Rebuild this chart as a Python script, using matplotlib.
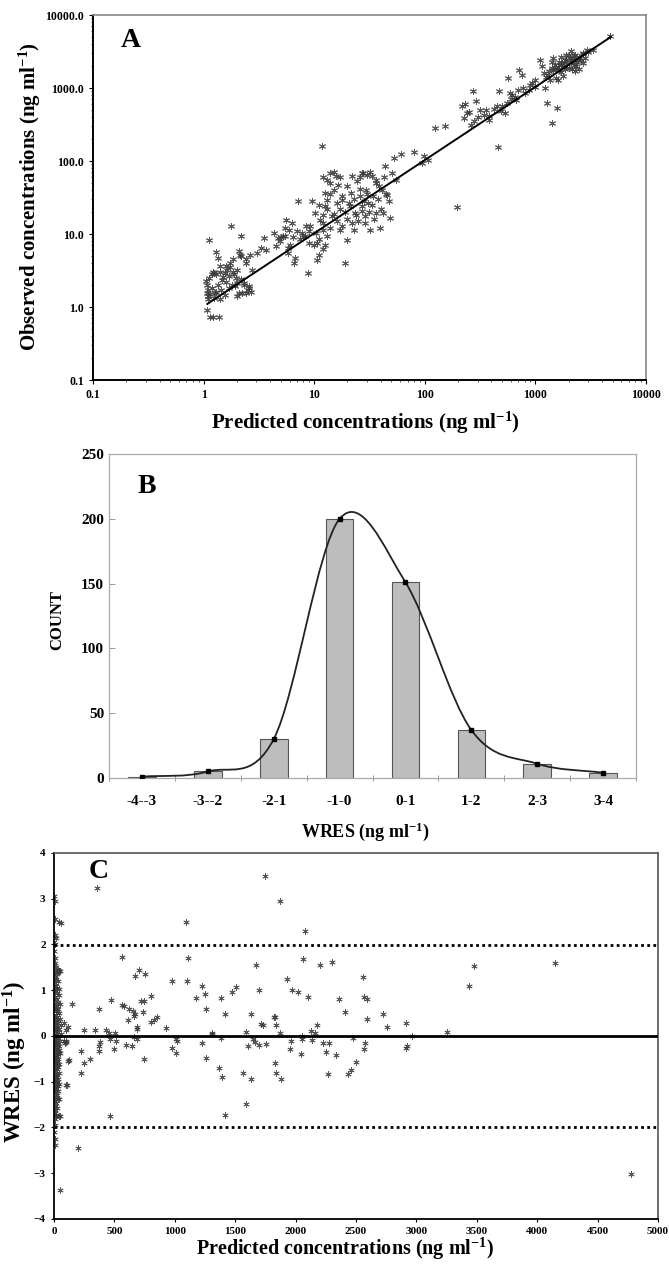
import matplotlib
matplotlib.use("Agg")
import matplotlib.pyplot as plt
import numpy as np
from matplotlib.path import Path
from matplotlib.patches import PathPatch
from matplotlib.ticker import NullFormatter, LogLocator

plt.rcParams['font.family'] = ['Liberation Serif', 'DejaVu Serif']
plt.rcParams['font.weight'] = 'bold'
plt.rcParams['mathtext.fontset'] = 'custom'
plt.rcParams['mathtext.rm'] = 'Liberation Serif:bold'
plt.rcParams['mathtext.bf'] = 'Liberation Serif:bold'
plt.rcParams['mathtext.it'] = 'Liberation Serif:bold'

# ---- panel A : observed vs predicted (log-log)
pred_a = [1.07, 1.13, 1.15, 1.21, 1.38, 1.05, 1.07, 1.09, 1.24, 1.30, 1.35, 1.27, 1.42, 1.48, 1.55,
          1.62, 1.69, 1.77, 1.85, 1.94, 2.02, 2.12, 2.17, 2.08, 2.21, 2.31, 2.42, 2.53, 2.60, 2.72,
          2.62, 3.03, 3.31, 3.55, 3.68, 4.32, 4.52, 4.73, 4.94, 5.17, 5.40, 5.55, 5.75, 5.96, 6.29,
          6.63, 6.75, 7.12, 7.72, 8.22, 8.75, 9.23, 9.65, 10.1, 10.4, 10.7, 11.3, 11.7, 12.1, 12.4,
          12.6, 13.1, 13.8, 14.4, 15.1, 15.8, 16.5, 17.1, 17.7, 18.8, 19.7, 20.6, 21.5, 22.1, 22.7,
          23.6, 24.6, 25.7, 26.9, 27.7, 28.7, 29.4, 30.8, 32.2, 33.0, 34.3, 36.1, 38.5, 39.5, 41.0,
          42.1, 44.0, 46.0, 48.1, 50.3, 52.6, 55.0, 61.2, 80.7, 94.0, 98.2, 107, 123, 153, 197,
          219, 225, 240, 262, 274, 292, 313, 358, 381, 448, 460, 469, 490, 526, 560, 585, 612,
          669, 713, 752, 779, 874, 931, 1000, 1093, 1143, 1217, 1261, 1307, 1367, 1416, 1455,
          1535, 1563, 1634, 1709, 1787, 1867, 2005, 2134, 2232, 2334, 2441, 2669, 3334, 4764,
          1200, 1250, 1320, 1400, 1450, 1500, 1550, 1600, 1650, 1700, 1750, 1800, 1850, 1900,
          1950, 2000, 2050, 2100, 2150, 2200, 2250, 2300, 2400, 2500, 2600, 2700, 2800, 3000,
          2900, 2100, 1700, 1600, 2500, 2300, 2700, 1900, 1400, 1000, 900, 800, 700, 650, 600,
          550, 500, 420, 380, 340, 300, 280, 250, 230,
          8, 9, 10, 11, 11, 12, 12, 13, 13, 14, 14, 15, 16, 16, 17, 18, 18, 19, 20, 20, 21, 22,
          23, 24, 25, 26, 27, 28, 29, 30, 31, 33, 35, 36, 38, 40, 43, 45, 47, 9, 8.5, 7.5, 6.5,
          6, 5.8, 7, 5, 5.5, 12, 14, 15, 13, 17, 27, 32, 36, 30, 26, 11, 10.5, 12.5, 12,
          1.1, 1.15, 1.2, 1.25, 1.3, 1.35, 1.4, 1.45, 1.5, 1.55, 1.6, 1.7, 1.75, 1.8, 1.9, 2.0,
          2.1, 2.2, 2.3, 2.4, 2.6, 2.7, 1.12, 1.18, 1.22, 1.08, 1.1, 1.3, 1.4, 1.6, 1.75, 1.85,
          1.95, 2.2, 2.4, 2.0]
obs_a = [0.92, 8.2, 0.74, 0.74, 0.74, 2.25, 1.56, 1.40, 2.92, 5.67, 4.69, 1.56, 3.61, 2.37, 2.92,
         3.25, 2.63, 13.0, 4.54, 1.92, 1.40, 5.21, 9.29, 5.79, 1.56, 2.13, 4.01, 1.73, 1.92, 3.25,
         5.21, 5.49, 6.43, 8.81, 6.10, 10.3, 6.78, 8.81, 7.94, 9.29, 12.1, 15.7, 5.49, 11.5, 14.2,
         4.01, 4.69, 28.0, 10.3, 9.29, 2.92, 12.7, 28.0, 19.4, 10.3, 4.45, 15.7, 159, 11.5, 23.9,
         36.4, 29.5, 68.5, 17.5, 40.5, 61.6, 47.4, 11.5, 29.5, 4.01, 8.2, 26.6, 36.4, 63.0, 11.5,
         19.4, 52.6, 32.8, 23.9, 68.5, 17.5, 40.5, 26.6, 11.5, 61.6, 32.8, 19.4, 45.0, 12.1, 40.5,
         19.4, 84.5, 34.6, 16.6, 68.5, 110, 55.5, 126, 133, 93.9, 116, 104, 283, 305, 23.4,
         561, 388, 455, 315, 900, 656, 505, 505, 368, 573, 155, 900, 479, 455, 1370, 854, 811,
         692, 1783, 1523, 1000, 948, 1170, 1032, 2443, 1981, 1000, 623, 1523, 1300, 332, 2576,
         1370, 532, 1783, 2089, 1444, 2443, 2863, 2317, 2714, 1981, 2443, 3016, 3350, 5210,
         1600, 1400, 1700, 1900, 1750, 2100, 1800, 1950, 2300, 1650, 2200, 2000, 1850, 2400,
         2150, 1900, 2600, 2250, 1800, 2500, 2050, 2800, 2300, 2650, 2450, 2900, 2600, 3100,
         3300, 3200, 2700, 1300, 1800, 1700, 2200, 2800, 2300, 1300, 1100, 850, 950, 750, 700,
         620, 560, 520, 420, 430, 400, 350, 470, 600,
         9, 7.5, 7, 8.5, 25, 18, 14, 9.5, 22, 12, 35, 19, 15, 27, 22, 13, 33, 20, 16, 45, 24, 14,
         30, 18, 15, 42, 21, 28, 14, 35, 20, 25, 16, 50, 30, 22, 60, 35, 28, 11, 13, 8.5, 9,
         7, 6.5, 11, 9, 9.5, 60, 50, 70, 55, 60, 68, 70, 55, 65, 60, 5.2, 7.5, 7, 6.3,
         1.3, 1.5, 1.8, 1.35, 1.6, 2.0, 1.3, 1.7, 2.6, 1.45, 2.2, 1.8, 3.5, 2.0, 2.8, 2.1,
         1.55, 2.4, 2.0, 1.55, 1.8, 1.6, 2.5, 2.8, 3.0, 2.0, 1.7, 2.8, 3.0, 3.6, 4.0, 3.0,
         2.5, 5.0, 4.5, 3.2]
line_a_x = [1.08, 4800]
line_a_y = [1.10, 5000]

# ---- panel B : WRES histogram
wres_bins = ["-4--3", "-3--2", "-2-1", "-1-0", "0-1", "1-2", "2-3", "3-4"]
wres_count = [1, 5, 30, 200, 151, 37, 11, 4]

# ---- panel C : WRES vs predicted
pred_c = [355, 1748, 1872, 1096, 2081, 560, 1110, 4145, 3475, 1670, 2060, 2301, 2205, 706, 670,
          755, 2557, 1929, 979, 1103, 3436, 1223, 1503, 1471, 1698, 1972, 2021, 1248, 805, 1174,
          1383, 2103, 2567, 2592, 2362, 152, 617, 475, 376, 567, 582, 613, 652, 660, 667, 684,
          684, 723, 734, 745, 805, 826, 851, 929, 1418, 1631, 1716, 1727, 1819, 1830, 1837, 1872,
          1312, 1589, 2174, 2128, 2163, 2057, 2408, 2592, 2723, 2755, 2911, 2964, 3255, 1227,
          1014, 1021, 979, 1011, 1305, 1380, 1259, 1255, 1365, 1394, 1418, 1564, 1592, 1610,
          1631, 1649, 1660, 1698, 1759, 1833, 1840, 1883, 1950, 1961, 2043, 2057, 2138, 2230,
          2252, 2266, 2273, 2333, 2433, 2457, 2475, 2500, 2571, 2567, 2918, 2911, 372, 376, 383,
          340, 248, 223, 220, 252, 294, 195, 465, 465, 500, 514, 454, 433, 507, 596, 642, 663,
          745, 691, 117, 82, 121, 99, 4773,
          85, 92, 97, 100, 103, 118, 105,
          3, 5, 8, 12, 15, 6, 4, 10, 7, 20, 30, 45, 12, 25, 8, 18, 35, 5, 14, 28, 45, 9, 22, 40,
          6, 16, 32, 11, 48, 24, 4, 19, 38, 13, 27, 7, 50, 21, 10, 34, 60, 15, 26, 5, 42, 18, 9,
          30, 55, 14, 23, 6, 37, 12, 46, 20, 8, 29, 16, 40, 4, 25, 11, 33, 18, 52, 7, 22, 14, 36,
          10, 28, 5, 19, 44, 13, 31, 8, 24, 16, 39, 6, 21, 12, 34, 9, 27, 15, 42, 5, 20, 11, 30,
          7, 24, 14, 36, 9, 18, 5, 27, 12, 8, 20, 48, 15, 6, 10, 4, 8, 6, 46, 40, 55, 42, 50, 38,
          45, 17, 26, 3, 2, 35, 44, 33, 2, 3, 25, 18, 10, 31, 22, 13, 9, 16]
wres_c = [3.24, 3.50, 2.95, 2.49, 2.30, 1.72, 1.71, 1.60, 1.53, 1.56, 1.69, 1.61, 1.56, 1.45, 1.32,
          1.35, 1.28, 1.24, 1.21, 1.20, 1.10, 1.10, 1.06, 0.97, 1.00, 1.00, 0.97, 0.91, 0.88, 0.83,
          0.83, 0.86, 0.86, 0.80, 0.80, 0.70, 0.60, 0.78, 0.60, 0.68, 0.65, 0.35, 0.54, 0.44, 0.48,
          0.16, 0.20, 0.77, 0.52, 0.76, 0.30, 0.35, 0.41, 0.18, 0.49, 0.49, 0.26, 0.25, 0.42, 0.41,
          0.23, 0.07, 0.06, 0.08, 0.23, 0.10, 0.06, 0.01, 0.52, 0.37, 0.49, 0.20, 0.29, 0.0, 0.09,
          -0.16, -0.06, -0.12, -0.27, -0.38, 0.04, -0.04, -0.48, 0.60, -0.70, -0.89, -1.72, -0.81,
          -1.48, -0.23, -0.95, -0.07, -0.13, -0.19, -0.17, -0.58, -0.81, -0.95, -0.28, -0.10,
          -0.39, -0.07, -0.09, -0.16, -0.36, -0.84, -0.16, -0.41, -0.84, -0.74, -0.05, -0.57,
          -0.15, -0.28, -0.22, -0.27, -0.33, -0.21, -0.13, 0.14, 0.12, -0.33, -0.81, -0.59,
          -0.50, -2.44, -1.75, -0.07, -0.29, -0.11, 0.06, 0.12, 0.07, -0.20, -0.23, -0.03, -0.51,
          -0.07, 0.20, 0.29, -0.52, -1.07, -3.02,
          -0.12, -0.15, -0.13, -0.12, 0.12, -0.54, -1.08,
          3.05, 2.95, 2.55, 2.2, 2.15, 2.0, 1.85, 1.7, 1.6, 1.5, 1.45, 1.43, 1.4, 1.35, 1.3, 1.25,
          1.2, 1.15, 1.1, 1.05, 1.02, 1.0, 0.95, 0.9, 0.85, 0.8, 0.75, 0.7, 0.7, 0.65, 0.6, 0.55,
          0.5, 0.45, 0.42, 0.4, 0.38, 0.35, 0.3, 0.28, 0.25, 0.22, 0.2, 0.18, 0.15, 0.12, 0.1,
          0.08, 0.05, 0.03, 0.0, -0.03, -0.05, -0.08, -0.1, -0.12, -0.15, -0.18, -0.2, -0.22,
          -0.25, -0.28, -0.3, -0.33, -0.36, -0.38, -0.4, -0.43, -0.46, -0.5, -0.52, -0.55, -0.58,
          -0.6, -0.62, -0.65, -0.68, -0.7, -0.73, -0.76, -0.8, -0.83, -0.86, -0.9, -0.93, -0.96,
          -1.0, -1.03, -1.06, -1.1, -1.13, -1.17, -1.2, -1.25, -1.3, -1.35, -1.38, -1.42, -1.47,
          -1.52, -1.57, -1.62, -1.68, -1.72, -1.75, -1.75, -1.82, -1.95, -2.1, -2.25, -2.38,
          -3.36, 2.49, 2.48, 1.42, 1.43, -1.38, -1.75, 0.0, -0.6, -0.5, 0.3, 0.6, -0.3, -1.1,
          -1.0, 1.0, 0.5, -0.9, -0.7, -0.4, -0.2, 0.6, -1.2, -0.05]
limit_hi = 1.98
limit_lo = -1.98

ast = (6, 2, 0)
pt_col = '#3a3a3a'
unit = 'ng ml$^{-1}$'

fig = plt.figure(figsize=(6.69, 12.65), dpi=100)

# ================= A
axA = fig.add_axes([0.139, 0.6996, 0.8266, 0.2885])
axA.plot(pred_a, obs_a, ls='none', marker=ast, ms=5, mec=pt_col, mew=0.7, alpha=0.85)
axA.plot(line_a_x, line_a_y, color='black', lw=1.4)
axA.set_xscale('log')
axA.set_yscale('log')
axA.set_xlim(0.1, 10000)
axA.set_ylim(0.1, 10000)
dec = [0.1, 1, 10, 100, 1000, 10000]
axA.set_xticks(dec)
axA.set_xticklabels(['0.1', '1', '10', '100', '1000', '10000'])
axA.set_yticks(dec)
axA.set_yticklabels(['0.1', '1.0', '10.0', '100.0', '1000.0', '10000.0'])
axA.xaxis.set_minor_locator(LogLocator(base=10, subs=np.arange(2, 10)))
axA.yaxis.set_minor_locator(LogLocator(base=10, subs=np.arange(2, 10)))
axA.xaxis.set_minor_formatter(NullFormatter())
axA.yaxis.set_minor_formatter(NullFormatter())
axA.tick_params(which='major', length=3, width=0.8, labelsize=8.5, direction='out')
axA.tick_params(which='minor', length=1.5, width=0.5, direction='out')
for s in ['left', 'bottom']:
    axA.spines[s].set_linewidth(1.4)
for s in ['top', 'right']:
    axA.spines[s].set_color('#888888')
    axA.spines[s].set_linewidth(1.2)
axA.text(0.05, 0.93, 'A', transform=axA.transAxes, fontsize=20, fontweight='bold', va='center')
fig.text(365 / 669, 1 - 423 / 1265, 'Predicted concentrations (' + unit + ')',
         ha='center', va='center', fontsize=15, fontweight='bold')
fig.text(30 / 669, 1 - 197 / 1265, 'Observed concentrations (' + unit + ')',
         ha='center', va='center', rotation=90, fontsize=15, fontweight='bold')

# ================= B
axB = fig.add_axes([0.163, 0.385, 0.7877, 0.2561])
xb = np.arange(len(wres_bins))
axB.bar(xb, wres_count, width=0.42, color='#bdbdbd', edgecolor='#555555', linewidth=0.8, zorder=2)
# smooth line through the counts (cubic bezier, catmull-rom tangents)
yb = np.array(wres_count, dtype=float)
tang = np.gradient(yb)
verts = [(xb[0], yb[0])]
codes = [Path.MOVETO]
for i in range(len(xb) - 1):
    verts += [(xb[i] + 1 / 3, yb[i] + tang[i] / 3),
              (xb[i + 1] - 1 / 3, yb[i + 1] - tang[i + 1] / 3),
              (xb[i + 1], yb[i + 1])]
    codes += [Path.CURVE4] * 3
axB.add_patch(PathPatch(Path(verts, codes), facecolor='none', edgecolor='#222222', lw=1.3, zorder=3))
axB.plot(xb, wres_count, ls='none', marker='s', ms=3.5, color='black', zorder=4)
axB.set_xlim(-0.5, len(wres_bins) - 0.5)
axB.set_ylim(0, 250)
axB.set_yticks(range(0, 251, 50))
axB.set_xticks(xb)
axB.set_xticklabels(wres_bins)
axB.set_xticks(np.arange(-0.5, len(wres_bins)), minor=True)
axB.tick_params(axis='x', which='major', length=0, pad=12, labelsize=11)
axB.tick_params(axis='x', which='minor', length=5, width=0.6, color='#888888', direction='inout')
axB.tick_params(axis='y', length=4, width=0.6, color='#888888', labelsize=11, direction='in')
for s in axB.spines.values():
    s.set_color('#aaaaaa')
    s.set_linewidth(0.9)
axB.text(0.055, 0.90, 'B', transform=axB.transAxes, fontsize=20, fontweight='bold', va='center')
fig.text(365 / 669, 1 - 832 / 1265, 'WRES (' + unit + ')', ha='center', va='center',
         fontsize=13, fontweight='bold')
fig.text(57 / 669, 1 - 620 / 1265, 'COUNT', ha='center', va='center', rotation=90,
         fontsize=12, fontweight='bold')

# ================= C
axC = fig.add_axes([0.0807, 0.0364, 0.9029, 0.2893])
axC.plot(pred_c, wres_c, ls='none', marker=ast, ms=4.5, mec=pt_col, mew=0.6, alpha=0.85, zorder=2)
axC.axhline(0, color='black', lw=2, zorder=3)
axC.axhline(limit_hi, color='black', lw=2, ls=(0, (1, 1.2)), zorder=3)
axC.axhline(limit_lo, color='black', lw=2, ls=(0, (1, 1.2)), zorder=3)
axC.set_xlim(0, 5000)
axC.set_ylim(-4, 4)
axC.set_xticks(range(0, 5001, 500))
axC.set_yticks(range(-4, 5))
axC.tick_params(length=2.5, width=0.8, labelsize=8, direction='out')
for s in ['left', 'bottom']:
    axC.spines[s].set_linewidth(1.3)
for s in ['top', 'right']:
    axC.spines[s].set_color('#555555')
    axC.spines[s].set_linewidth(1.2)
axC.text(0.058, 0.95, 'C', transform=axC.transAxes, fontsize=20, fontweight='bold', va='center')
fig.text(345 / 669, 1 - 1249 / 1265, 'Predicted concentrations (' + unit + ')',
         ha='center', va='center', fontsize=14.5, fontweight='bold')
fig.text(15 / 669, 1 - 1062 / 1265, 'WRES (' + unit + ')', ha='center', va='center',
         rotation=90, fontsize=16.5, fontweight='bold')

fig.savefig('out.png', dpi=100)
